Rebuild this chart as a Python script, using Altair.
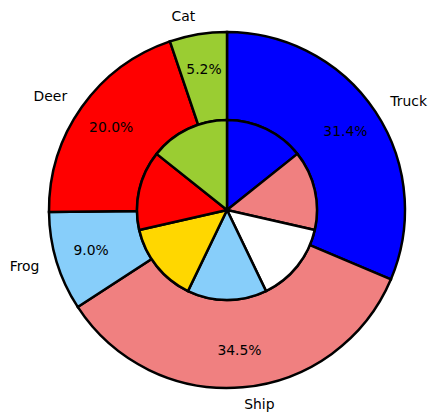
import altair as alt
import pandas as pd

outer_names = ["Truck", "Ship", "Frog", "Deer", "Cat"]
outer_values = [31.4, 34.5, 9.0, 20.0, 5.2]
outer_colors = ["blue", "lightcoral", "lightskyblue", "red", "yellowgreen"]

inner_ids = ["a", "b", "c", "d", "e", "f", "g"]
inner_values = [1, 1, 1, 1, 1, 1, 1]
inner_colors = ["blue", "lightcoral", "white", "lightskyblue", "gold", "red", "yellowgreen"]

outer_df = pd.DataFrame({"name": outer_names, "value": outer_values,
                         "idx": list(range(len(outer_names)))})
inner_df = pd.DataFrame({"sid": inner_ids, "value": inner_values,
                         "idx": list(range(len(inner_ids)))})

CX, CY = 219, 202
R_OUT, R_IN = 178, 90
FONT = "DejaVu Sans"
FS = 13.9

base_outer = alt.Chart(outer_df).transform_window(
    cum="sum(value)", sort=[alt.SortField("idx")]
).transform_joinaggregate(total="sum(value)").transform_calculate(
    mid="(datum.cum - datum.value/2)/datum.total",
    pct="format(datum.value, '.1f') + '%'"
).encode(
    theta=alt.Theta("value:Q", stack=True),
    order=alt.Order("idx:Q"),
    x=alt.value(CX), y=alt.value(CY),
)

outer_arc = base_outer.mark_arc(
    outerRadius=R_OUT, innerRadius=R_IN, stroke="black", strokeWidth=2.5
).encode(
    color=alt.Color("name:N", scale=alt.Scale(domain=outer_names, range=outer_colors), legend=None)
)

pct_text = base_outer.mark_text(radius=142, font=FONT, fontSize=FS, color="black").encode(
    detail="name:N", text="pct:N"
)

label_right = base_outer.mark_text(radius=196, font=FONT, fontSize=FS, color="black",
                                   align="left", baseline="middle").encode(
    detail="name:N",
    text=alt.condition("datum.mid < 0.5", "name:N", alt.value(""))
)
label_left = base_outer.mark_text(radius=196, font=FONT, fontSize=FS, color="black",
                                  align="right", baseline="middle").encode(
    detail="name:N",
    text=alt.condition("datum.mid >= 0.5", "name:N", alt.value(""))
)

outer = alt.layer(outer_arc, pct_text, label_right, label_left)

inner = alt.Chart(inner_df).mark_arc(
    outerRadius=R_IN, stroke="black", strokeWidth=2.5
).encode(
    theta=alt.Theta("value:Q", stack=True),
    order=alt.Order("idx:Q"),
    color=alt.Color("sid:N", scale=alt.Scale(domain=inner_ids, range=inner_colors), legend=None),
    x=alt.value(CX), y=alt.value(CY),
)

chart = alt.layer(outer, inner).resolve_scale(
    theta="independent", color="independent"
).properties(
    width=420, height=404, padding=0,
    autosize=alt.AutoSizeParams(type="none")
).configure_view(stroke=None)

chart.save("out.html", embed_options={"renderer": "svg", "actions": False})
